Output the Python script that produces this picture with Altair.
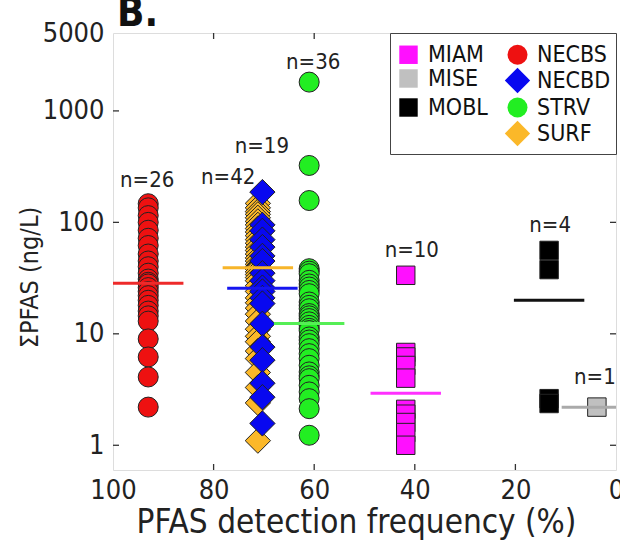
import altair as alt
import pandas as pd

FONT = "Liberation Sans Narrow, DejaVu Sans Condensed, Roboto Condensed, Liberation Sans, sans-serif"

# ---- data ----
groups = ["NECBS", "SURF", "NECBD", "STRV", "MIAM", "MOBL", "MISE"]
group_x = [93.0, 71.2, 70.3, 61.0, 41.8, 13.3, 3.8]  # detection frequency (%)

necbs = [147, 135, 115, 100, 85, 72, 62, 52, 45, 40, 35, 31, 29, 28, 26, 24,
         22, 20, 18, 16, 14.5, 13, 9, 6.2, 4.1, 2.2]
surf = [148, 135, 125, 118, 110, 102, 95, 88, 82, 76, 70, 65, 60, 56, 52, 48,
        45, 42, 40, 39, 39, 38, 36, 34, 32, 30, 27, 24, 21, 19, 17, 15, 13, 11,
        9.5, 8.5, 7, 6, 4.5, 3.3, 2.4, 1.1]
necbd = [187, 95, 84, 70, 60, 50, 45, 35, 30, 26, 24, 21, 18.7, 12.3, 7.6, 5.8,
         3.6, 2.7, 1.57]
strv = [1813, 324, 157, 38.4, 36.5, 34.6, 30.2, 28, 26.3, 24.5, 22.9, 19.3, 18,
        16.8, 15.2, 14.5, 13.7, 12.8, 11.9, 11.2, 10.7, 9.37, 8.8, 8.16, 7.36,
        6.64, 5.99, 5.22, 4.55, 4.2, 3.96, 3.45, 3.01, 2.62, 2.13, 1.23]
miam = [33.5, 6.8, 6.2, 5.2, 4.0, 2.1, 1.9, 1.6, 1.3, 1.0]
mobl = [56, 37.7, 2.62, 2.37]
mise = [2.2]
series = [necbs, surf, necbd, strv, miam, mobl, mise]

median_vals = [28.4, 39.1, 25.6, 12.4, 2.93, 20.0, 2.19]
line_half = 7.0

n_labels = ["n=26", "n=42", "n=19", "n=36", "n=10", "n=4", "n=1"]
label_x = [93.2, 77.1, 70.4, 60.2, 40.6, 13.1, 4.2]
label_y = [238, 253, 480, 2723, 56, 94, 4.07]

panel_label = ["B."]

y_ticks = [1, 10, 100, 1000]
x_ticks = [80, 60, 40, 20]

# legend is filled column by column: 4 rows x 2 columns, one blank slot
legend_domain = ["MIAM", "MISE", "MOBL", " ", "NECBS", "NECBD", "STRV", "SURF"]
legend_colors = ["#ff10ff", "#c0c0c0", "#000000", "#ffffff", "#ee1111", "#0808f0",
                 "#22ee22", "#fbb829"]
legend_shapes = ["square", "square", "square", "M0,0", "circle", "diamond",
                 "circle", "diamond"]
legend_sizes = [340, 340, 340, 0, 400, 640, 400, 640]

line_colors = ["#ee2a2a", "#f7b52a", "#1515f0", "#55ee55", "#ff30ff", "#111111", "#aaaaaa"]

# ---- tables ----
rows = []
for g, gx, vals in zip(groups, group_x, series):
    for v in vals:
        rows.append({"group": g, "x": gx, "y": v})
pts = pd.DataFrame(rows)

lines = pd.DataFrame({
    "lgroup": groups,
    "x": [gx + line_half for gx in group_x],
    "x2": [gx - line_half for gx in group_x],
    "y": median_vals,
})
labels = pd.DataFrame({"x": label_x, "y": label_y, "label": n_labels})
yt = pd.DataFrame({"y": y_ticks})
xt = pd.DataFrame({"x": x_ticks})
pl = pd.DataFrame({"t": panel_label})

W, H = 503, 437
xscale = alt.Scale(domain=[0, 100], reverse=True, nice=False)
yscale = alt.Scale(type="log", domain=[0.6, 5000], nice=False)

xaxis = alt.Axis(values=[100, 80, 60, 40, 20, 0], format="d", ticks=False, domain=False,
                 grid=False, labelFont=FONT, labelFontSize=27, labelColor="#222",
                 labelPadding=7, labelOverlap=False, labelFlush=False, labelBound=False,
                 title="PFAS detection frequency (%)", titleFont=FONT, titleFontSize=33,
                 titleFontWeight="normal", titleColor="#222", titlePadding=3,
                 titleX=243)
yaxis = alt.Axis(values=[1, 10, 100, 1000, 5000], format="d", ticks=False, domain=False,
                 grid=False, labelFont=FONT, labelFontSize=27, labelColor="#222",
                 labelPadding=9, labelOverlap=False, labelFlush=False, labelBound=False,
                 title="ΣPFAS (ng/L)", titleFont=FONT, titleFontSize=25,
                 titleFontWeight="normal", titleColor="#222",
                 titleX=-71, titleY=244, titleBaseline="bottom", titleAngle=270)

X = lambda: alt.X("x:Q", scale=xscale, axis=xaxis)
Y = lambda: alt.Y("y:Q", scale=yscale, axis=yaxis)

leg = alt.Legend(title=" ", titleFontSize=4, titlePadding=1, orient="top-right",
                 offset=0, columns=2, padding=5,
                 fillColor="white", strokeColor="#444", labelFont=FONT,
                 labelFontSize=23, labelColor="#111",
                 symbolStrokeColor="#333", symbolStrokeWidth=1, symbolOpacity=1,
                 rowPadding=-4, columnPadding=14, labelOffset=6)

points = alt.Chart(pts).mark_point(filled=True, opacity=1, stroke="#222",
                                   strokeWidth=1).encode(
    x=X(), y=Y(),
    color=alt.Color("group:N", scale=alt.Scale(domain=legend_domain, range=legend_colors),
                    legend=leg),
    shape=alt.Shape("group:N", scale=alt.Scale(domain=legend_domain, range=legend_shapes),
                    legend=leg),
    size=alt.Size("group:N", scale=alt.Scale(type="ordinal", domain=legend_domain,
                                             range=legend_sizes),
                  legend=leg),
)

med = alt.Chart(lines).mark_rule(strokeWidth=3, clip=True).encode(
    x=X(), x2="x2:Q", y=Y(),
    stroke=alt.Stroke("lgroup:N", scale=alt.Scale(domain=groups, range=line_colors),
                      legend=None),
)

txt = alt.Chart(labels).mark_text(font=FONT, fontSize=22, color="#222",
                                  baseline="middle", align="center").encode(
    x=X(), y=Y(), text="label:N")

panel = alt.Chart(pl).mark_text(font=FONT, fontSize=40, fontWeight="bold", color="#111",
                                baseline="alphabetic", align="left").encode(
    x=alt.value(4), y=alt.value(-7), text="t:N")

tick_kw = dict(color="#333", strokeWidth=1.3)
lt = alt.Chart(yt).mark_rule(**tick_kw).encode(y=Y(), x=alt.value(0), x2=alt.value(6))
rt = alt.Chart(yt).mark_rule(**tick_kw).encode(y=Y(), x=alt.value(W - 6), x2=alt.value(W))
bt = alt.Chart(xt).mark_rule(**tick_kw).encode(x=X(), y=alt.value(H), y2=alt.value(H - 6))
tt = alt.Chart(xt).mark_rule(**tick_kw).encode(x=X(), y=alt.value(0), y2=alt.value(6))

chart = alt.layer(points, med, txt, lt, rt, bt, tt, panel).properties(
    width=W, height=H,
    autosize=alt.AutoSizeParams(type="none"),
    padding={"left": 113, "top": 33, "right": 4, "bottom": 79},
).configure_view(stroke="#333", strokeWidth=1.5).configure(background="white")

chart.save("out.html", embed_options={"renderer": "svg", "actions": False})
